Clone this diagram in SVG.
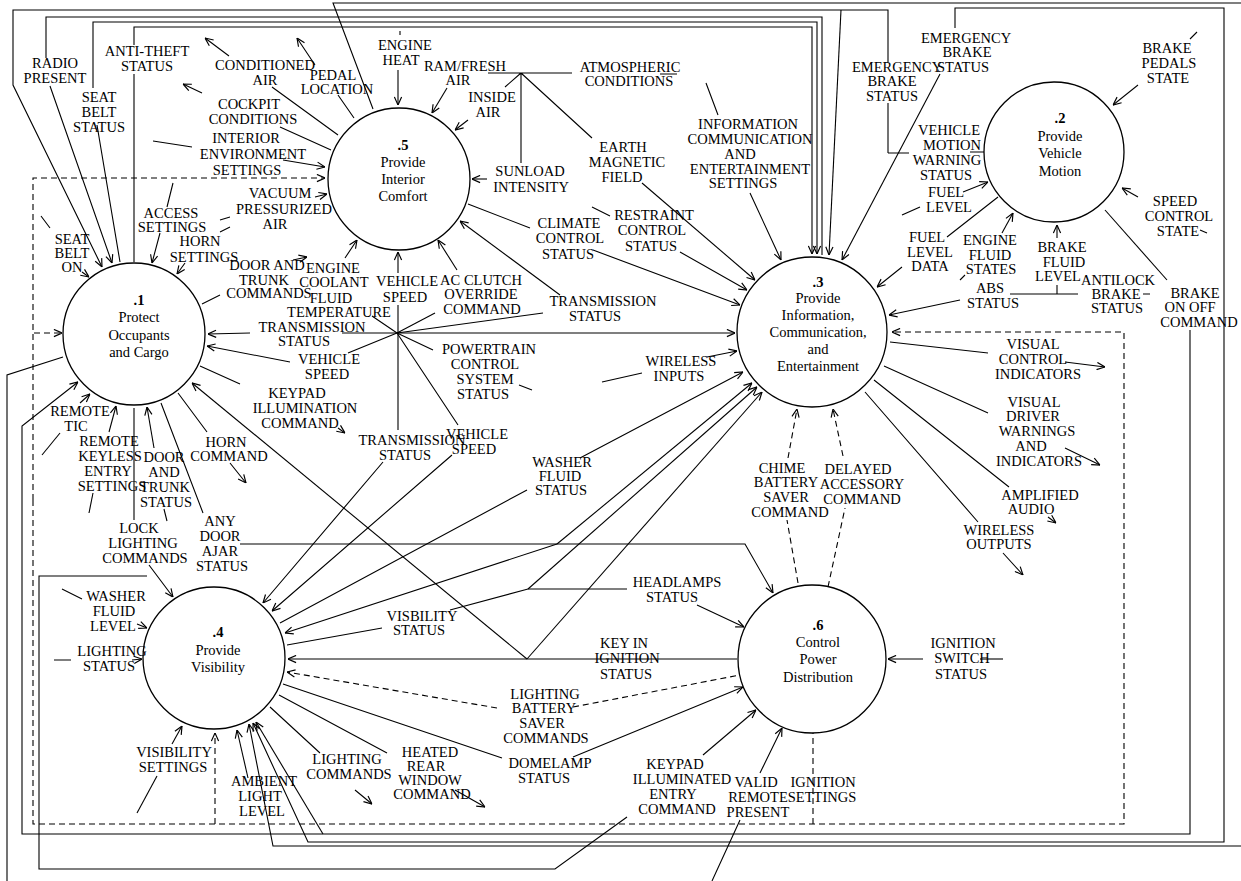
<svg xmlns="http://www.w3.org/2000/svg" width="1241" height="881" viewBox="0 0 1241 881">
<style>
.l{fill:none;stroke:#000;stroke-width:1.1}
.d{stroke-dasharray:6 4}
.c{fill:#fff;stroke:#000;stroke-width:1.3}
.t{font-family:"Liberation Serif","Times New Roman",serif;font-size:14.5px;text-anchor:middle;fill:#000}
.b{font-weight:bold}
</style>
<defs>
<marker id="a" viewBox="0 0 10 10" refX="10" refY="5" markerWidth="9" markerHeight="9" markerUnits="userSpaceOnUse" orient="auto"><path d="M1,1 L10,5 L1,9" fill="none" stroke="#000" stroke-width="1.3"/></marker>
</defs>
<rect width="1241" height="881" fill="#fff"/>
<g id="connectors" class="l">
<!-- top wrap-around lines -->
<path d="M134,262 L134,74 M134,45 L134,27 L812,27 L812,254" marker-end="url(#a)"/>
<path d="M120,262 L97,125 M93,88 L93,22 L817,22 L817,254" marker-end="url(#a)"/>
<path d="M822,255 L822,17 L46,17 L46,58 M50,86 L112,263" marker-end="url(#a)"/>
<path d="M888,153 L888,103 M888,62 L888,10 L13,10 L13,85 L102,267" marker-end="url(#a)"/>
<path d="M888,153 L909,153 M970,152 L986,152"/>
<path d="M841,10 L829,255" marker-end="url(#a)"/>
<path d="M940,74 L842,260" marker-end="url(#a)"/>
<path d="M955,28 L955,8 L1224,8 L1224,842 L308,842 L253,723" marker-end="url(#a)"/>
<path d="M373,109 L333,3 L1241,3"/>
<path d="M1105,210 L1167,280"/>
<path d="M1190,330 L1190,834 L22,834 L22,426 L78,382" marker-end="url(#a)"/>
<path d="M323,834 L256,722" marker-end="url(#a)"/>
<path d="M1241,846 L273,846 L249,724" marker-end="url(#a)"/>
<path d="M63,357 L7,375 L7,881"/>
<path d="M627,817 L555,869 L39,869 L39,576 L147,576"/>
<path d="M703,755 L756,710" marker-end="url(#a)"/>
<path d="M712,881 L740,820 M760,773 L782,728" marker-end="url(#a)"/>
<!-- dashed boundary -->
<path class="l d" d="M33,500 L33,178 L325,178" marker-end="url(#a)"/>
<path class="l d" d="M33,500 L33,824 L1124,824 L1124,332 L892,332" marker-end="url(#a)"/>
<path class="l d" d="M34,333 L62,333" marker-end="url(#a)"/>
<path class="l d" d="M215,824 L215,733" marker-end="url(#a)"/>
<path class="l d" d="M813,824 L813,733"/>
<!-- .5 surroundings -->
<path d="M338,135 L272,87 M229,56 L205,38" marker-end="url(#a)"/>
<path d="M331,150 L280,127 M202,93 L183,84" marker-end="url(#a)"/>
<path d="M354,118 L338,95 M315,65 L297,38" marker-end="url(#a)"/>
<path d="M398,70 L398,105" marker-end="url(#a)"/>
<path d="M400,31 L400,35"/>
<path d="M447,88 L432,113" marker-end="url(#a)"/>
<path d="M468,120 L455,130" marker-end="url(#a)"/>
<path d="M488,73 L572,73 M521,73 L505,87 M521,73 L521,163 M521,73 L592,138 M660,74 L677,74"/>
<path d="M487,179 L472,179" marker-end="url(#a)"/>
<path d="M642,183 L755,280" marker-end="url(#a)"/>
<path d="M706,83 L718,115 M750,193 L781,260" marker-end="url(#a)"/>
<path d="M468,204 L530,228 M593,250 L740,305" marker-end="url(#a)"/>
<path d="M592,207 L610,216 M680,252 L747,290" marker-end="url(#a)"/>
<path d="M560,295 L460,221" marker-end="url(#a)"/>
<path d="M397,333 L543,313"/>
<path d="M457,270 L438,240" marker-end="url(#a)"/>
<path d="M435,313 L397,333"/>
<path d="M398,333 L398,305 M398,273 L398,252" marker-end="url(#a)"/>
<path d="M372,316 L397,333 M345,258 L357,240" marker-end="url(#a)"/>
<path d="M153,141 L192,147 M283,160 L325,167" marker-end="url(#a)"/>
<path d="M220,220 L230,217 M315,197 L327,194" marker-end="url(#a)"/>
<path d="M173,183 L167,207 M160,233 L152,263" marker-end="url(#a)"/>
<path d="M220,232 L230,227 M185,263 L177,274" marker-end="url(#a)"/>
<path d="M41,216 L50,228 M82,272 L89,277" marker-end="url(#a)"/>
<path d="M202,304 L220,295 M293,260 L307,257" marker-end="url(#a)"/>
<!-- star -->
<path d="M342,333 L735,333" marker-end="url(#a)"/>
<path d="M250,333 L208,334" marker-end="url(#a)"/>
<path d="M348,353 L397,333 M290,362 L207,346" marker-end="url(#a)"/>
<path d="M397,333 L433,350 M519,385 L532,390"/>
<path d="M602,382 L642,373 M707,357 L737,351" marker-end="url(#a)"/>
<path d="M397,333 L458,425 M452,455 L272,611" marker-end="url(#a)"/>
<path d="M398,333 L398,430 M383,462 L263,603" marker-end="url(#a)"/>
<!-- .1 bottom -->
<path d="M200,366 L240,384 M338,428 L345,433" marker-end="url(#a)"/>
<path d="M178,393 L207,432 M230,463 L246,483" marker-end="url(#a)"/>
<path d="M161,403 L203,513 M240,544 L745,544 L773,593" marker-end="url(#a)"/>
<path d="M154,448 L147,407" marker-end="url(#a)"/>
<path d="M164,509 L167,521"/>
<path d="M109,432 L116,406" marker-end="url(#a)"/>
<path d="M93,493 L89,513"/>
<path d="M80,403 L90,394" marker-end="url(#a)"/>
<path d="M42,455 L60,433"/>
<path d="M134,408 L134,520 M149,565 L173,597" marker-end="url(#a)"/>
<!-- key in ignition -->
<path d="M737,659 L288,659" marker-end="url(#a)"/>
<path d="M527,659 L762,392" marker-end="url(#a)"/>
<path d="M527,659 L192,383" marker-end="url(#a)"/>
<!-- .4 surroundings -->
<path d="M62,589 L82,599 M137,624 L147,628" marker-end="url(#a)"/>
<path d="M54,660 L71,660 M132,660 L142,659" marker-end="url(#a)"/>
<path d="M172,744 L182,726" marker-end="url(#a)"/>
<path d="M157,776 L137,813"/>
<path d="M248,778 L237,730" marker-end="url(#a)"/>
<path d="M280,623 L527,490 M580,458 L743,372" marker-end="url(#a)"/>
<path d="M557,544 L752,383" marker-end="url(#a)"/>
<path d="M557,544 L285,633" marker-end="url(#a)"/>
<path d="M287,645 L382,628 M450,610 L528,589 L627,589"/>
<path d="M528,589 L757,387" marker-end="url(#a)"/>
<path d="M697,605 L744,627" marker-end="url(#a)"/>
<path d="M283,684 L502,758 M573,757 L743,687" marker-end="url(#a)"/>
<path d="M279,695 L387,753 M455,790 L485,807" marker-end="url(#a)"/>
<path d="M270,707 L320,753 M355,790 L372,804" marker-end="url(#a)"/>
<path class="l d" d="M497,708 L287,672" marker-end="url(#a)"/>
<path class="l d" d="M573,707 L740,675"/>
<!-- .6 surroundings -->
<path d="M923,659 L888,659" marker-end="url(#a)"/>
<path d="M980,659 L1003,659"/>
<path class="l d" d="M798,583 L787,520 M788,458 L797,409" marker-end="url(#a)"/>
<path class="l d" d="M828,587 L845,508 M843,456 L833,409" marker-end="url(#a)"/>
<!-- .3 right -->
<path d="M890,342 L988,353 M1065,362 L1105,367" marker-end="url(#a)"/>
<path d="M884,366 L988,413 M1065,448 L1100,465" marker-end="url(#a)"/>
<path d="M874,380 L1009,487 M1048,517 L1056,523" marker-end="url(#a)"/>
<path d="M865,392 L978,522 M1003,553 L1023,575" marker-end="url(#a)"/>
<path d="M960,300 L889,315" marker-end="url(#a)"/>
<path d="M1010,294 L1078,294 M1057,285 L1057,294 M1143,294 L1150,294"/>
<!-- .2 surroundings -->
<path d="M1057,238 L1057,225" marker-end="url(#a)"/>
<path d="M1002,233 L1013,213" marker-end="url(#a)"/>
<path d="M960,280 L965,275"/>
<path d="M947,237 L998,197 M902,267 L877,287" marker-end="url(#a)"/>
<path d="M963,192 L988,182" marker-end="url(#a)"/>
<path d="M902,215 L920,207"/>
<path d="M1138,85 L1113,105" marker-end="url(#a)"/>
<path d="M1197,32 L1190,39"/>
<path d="M1138,197 L1122,188" marker-end="url(#a)"/>
<path d="M1200,230 L1207,233"/>
</g>
<g id="n1"><circle class="c" cx="134" cy="334" r="71"/><text class="t"><tspan class="b" x="139" y="305">.1</tspan><tspan x="139" y="322">Protect</tspan><tspan x="139" y="340">Occupants</tspan><tspan x="139" y="357">and Cargo</tspan></text></g>
<g id="n2"><circle class="c" cx="1054" cy="152" r="70"/><text class="t"><tspan class="b" x="1060" y="123">.2</tspan><tspan x="1060" y="141">Provide</tspan><tspan x="1060" y="158">Vehicle</tspan><tspan x="1060" y="176">Motion</tspan></text></g>
<g id="n3"><circle class="c" cx="812" cy="332" r="75"/><text class="t"><tspan class="b" x="818" y="287">.3</tspan><tspan x="818" y="303">Provide</tspan><tspan x="818" y="320">Information,</tspan><tspan x="818" y="337">Communication,</tspan><tspan x="818" y="354">and</tspan><tspan x="818" y="371">Entertainment</tspan></text></g>
<g id="n4"><circle class="c" cx="214" cy="658" r="71"/><text class="t"><tspan class="b" x="218" y="637">.4</tspan><tspan x="218" y="655">Provide</tspan><tspan x="218" y="672">Visibility</tspan></text></g>
<g id="n5"><circle class="c" cx="399" cy="179" r="71"/><text class="t"><tspan class="b" x="403" y="150">.5</tspan><tspan x="403" y="167">Provide</tspan><tspan x="403" y="184">Interior</tspan><tspan x="403" y="201">Comfort</tspan></text></g>
<g id="n6"><circle class="c" cx="812" cy="659" r="74"/><text class="t"><tspan class="b" x="818" y="630">.6</tspan><tspan x="818" y="647">Control</tspan><tspan x="818" y="664">Power</tspan><tspan x="818" y="682">Distribution</tspan></text></g>
<g id="flow-labels" class="t">
<text><tspan x="55" y="68">RADIO</tspan><tspan x="55" y="83">PRESENT</tspan></text>
<text><tspan x="99" y="102">SEAT</tspan><tspan x="99" y="117">BELT</tspan><tspan x="99" y="132">STATUS</tspan></text>
<text><tspan x="147" y="56">ANTI-THEFT</tspan><tspan x="147" y="71">STATUS</tspan></text>
<text><tspan x="265" y="70">CONDITIONED</tspan><tspan x="265" y="85">AIR</tspan></text>
<text><tspan x="333" y="80">PEDAL</tspan><tspan x="337" y="94">LOCATION</tspan></text>
<text><tspan x="405" y="50">ENGINE</tspan><tspan x="401" y="65">HEAT</tspan></text>
<text><tspan x="465" y="71">RAM/FRESH</tspan><tspan x="458" y="85">AIR</tspan></text>
<text><tspan x="492" y="102">INSIDE</tspan><tspan x="488" y="117">AIR</tspan></text>
<text><tspan x="630" y="72">ATMOSPHERIC</tspan><tspan x="629" y="86">CONDITIONS</tspan></text>
<text><tspan x="249" y="109">COCKPIT</tspan><tspan x="253" y="124">CONDITIONS</tspan></text>
<text><tspan x="246" y="143">INTERIOR</tspan><tspan x="253" y="159">ENVIRONMENT</tspan><tspan x="247" y="175">SETTINGS</tspan></text>
<text><tspan x="530" y="176">SUNLOAD</tspan><tspan x="531" y="192">INTENSITY</tspan></text>
<text><tspan x="623" y="152">EARTH</tspan><tspan x="627" y="167">MAGNETIC</tspan><tspan x="622" y="182">FIELD</tspan></text>
<text><tspan x="748" y="129">INFORMATION</tspan><tspan x="750" y="144">COMMUNICATION</tspan><tspan x="740" y="159">AND</tspan><tspan x="750" y="174">ENTERTAINMENT</tspan><tspan x="743" y="188">SETTINGS</tspan></text>
<text><tspan x="569" y="228">CLIMATE</tspan><tspan x="570" y="243">CONTROL</tspan><tspan x="568" y="259">STATUS</tspan></text>
<text><tspan x="654" y="220">RESTRAINT</tspan><tspan x="652" y="235">CONTROL</tspan><tspan x="651" y="251">STATUS</tspan></text>
<text><tspan x="171" y="218">ACCESS</tspan><tspan x="172" y="232">SETTINGS</tspan></text>
<text><tspan x="280" y="198">VACUUM</tspan><tspan x="284" y="214">PRESSURIZED</tspan><tspan x="275" y="229">AIR</tspan></text>
<text><tspan x="200" y="246">HORN</tspan><tspan x="204" y="262">SETTINGS</tspan></text>
<text><tspan x="72" y="244">SEAT</tspan><tspan x="72" y="258">BELT</tspan><tspan x="72" y="272">ON</tspan></text>
<text><tspan x="267" y="270">DOOR AND</tspan><tspan x="264" y="285">TRUNK</tspan><tspan x="269" y="298">COMMANDS</tspan></text>
<text><tspan x="333" y="273">ENGINE</tspan><tspan x="334" y="287">COOLANT</tspan><tspan x="331" y="303">FLUID</tspan><tspan x="339" y="317">TEMPERATURE</tspan></text>
<text><tspan x="407" y="286">VEHICLE</tspan><tspan x="405" y="302">SPEED</tspan></text>
<text><tspan x="481" y="285">AC CLUTCH</tspan><tspan x="481" y="299">OVERRIDE</tspan><tspan x="482" y="314">COMMAND</tspan></text>
<text><tspan x="603" y="306">TRANSMISSION</tspan><tspan x="595" y="321">STATUS</tspan></text>
<text><tspan x="312" y="332">TRANSMISSION</tspan><tspan x="304" y="346">STATUS</tspan></text>
<text><tspan x="329" y="364">VEHICLE</tspan><tspan x="327" y="379">SPEED</tspan></text>
<text><tspan x="297" y="398">KEYPAD</tspan><tspan x="305" y="413">ILLUMINATION</tspan><tspan x="300" y="428">COMMAND</tspan></text>
<text><tspan x="489" y="354">POWERTRAIN</tspan><tspan x="485" y="369">CONTROL</tspan><tspan x="485" y="384">SYSTEM</tspan><tspan x="483" y="399">STATUS</tspan></text>
<text><tspan x="681" y="366">WIRELESS</tspan><tspan x="679" y="381">INPUTS</tspan></text>
<text><tspan x="477" y="439">VEHICLE</tspan><tspan x="474" y="454">SPEED</tspan></text>
<text><tspan x="412" y="445">TRANSMISSION</tspan><tspan x="405" y="460">STATUS</tspan></text>
<text><tspan x="562" y="467">WASHER</tspan><tspan x="560" y="481">FLUID</tspan><tspan x="561" y="495">STATUS</tspan></text>
<text><tspan x="226" y="447">HORN</tspan><tspan x="229" y="461">COMMAND</tspan></text>
<text><tspan x="164" y="462">DOOR</tspan><tspan x="164" y="477">AND</tspan><tspan x="165" y="492">TRUNK</tspan><tspan x="166" y="507">STATUS</tspan></text>
<text><tspan x="109" y="446">REMOTE</tspan><tspan x="110" y="461">KEYLESS</tspan><tspan x="108" y="476">ENTRY</tspan><tspan x="112" y="491">SETTINGS</tspan></text>
<text><tspan x="80" y="416">REMOTE</tspan><tspan x="76" y="431">TIC</tspan></text>
<text><tspan x="139" y="533">LOCK</tspan><tspan x="143" y="548">LIGHTING</tspan><tspan x="145" y="563">COMMANDS</tspan></text>
<text><tspan x="220" y="526">ANY</tspan><tspan x="220" y="541">DOOR</tspan><tspan x="220" y="556">AJAR</tspan><tspan x="222" y="571">STATUS</tspan></text>
<text><tspan x="116" y="601">WASHER</tspan><tspan x="114" y="616">FLUID</tspan><tspan x="113" y="631">LEVEL</tspan></text>
<text><tspan x="112" y="656">LIGHTING</tspan><tspan x="109" y="671">STATUS</tspan></text>
<text><tspan x="174" y="757">VISIBILITY</tspan><tspan x="173" y="772">SETTINGS</tspan></text>
<text><tspan x="264" y="786">AMBIENT</tspan><tspan x="260" y="801">LIGHT</tspan><tspan x="262" y="816">LEVEL</tspan></text>
<text><tspan x="347" y="764">LIGHTING</tspan><tspan x="349" y="779">COMMANDS</tspan></text>
<text><tspan x="430" y="757">HEATED</tspan><tspan x="426" y="771">REAR</tspan><tspan x="430" y="785">WINDOW</tspan><tspan x="432" y="799">COMMAND</tspan></text>
<text><tspan x="422" y="621">VISBILITY</tspan><tspan x="419" y="635">STATUS</tspan></text>
<text><tspan x="624" y="648">KEY IN</tspan><tspan x="627" y="663">IGNITION</tspan><tspan x="626" y="679">STATUS</tspan></text>
<text><tspan x="677" y="587">HEADLAMPS</tspan><tspan x="672" y="602">STATUS</tspan></text>
<text><tspan x="545" y="699">LIGHTING</tspan><tspan x="544" y="713">BATTERY</tspan><tspan x="542" y="728">SAVER</tspan><tspan x="546" y="743">COMMANDS</tspan></text>
<text><tspan x="550" y="768">DOMELAMP</tspan><tspan x="544" y="783">STATUS</tspan></text>
<text><tspan x="675" y="769">KEYPAD</tspan><tspan x="682" y="784">ILLUMINATED</tspan><tspan x="673" y="799">ENTRY</tspan><tspan x="677" y="814">COMMAND</tspan></text>
<text><tspan x="756" y="787">VALID</tspan><tspan x="758" y="802">REMOTE</tspan><tspan x="758" y="817">PRESENT</tspan></text>
<text><tspan x="823" y="787">IGNITION</tspan><tspan x="822" y="802">SETTINGS</tspan></text>
<text><tspan x="963" y="648">IGNITION</tspan><tspan x="962" y="663">SWITCH</tspan><tspan x="961" y="679">STATUS</tspan></text>
<text><tspan x="782" y="473">CHIME</tspan><tspan x="786" y="487">BATTERY</tspan><tspan x="786" y="502">SAVER</tspan><tspan x="790" y="517">COMMAND</tspan></text>
<text><tspan x="858" y="474">DELAYED</tspan><tspan x="862" y="489">ACCESSORY</tspan><tspan x="862" y="504">COMMAND</tspan></text>
<text><tspan x="1033" y="349">VISUAL</tspan><tspan x="1033" y="364">CONTROL</tspan><tspan x="1038" y="379">INDICATORS</tspan></text>
<text><tspan x="1034" y="407">VISUAL</tspan><tspan x="1033" y="421">DRIVER</tspan><tspan x="1037" y="436">WARNINGS</tspan><tspan x="1031" y="451">AND</tspan><tspan x="1039" y="466">INDICATORS</tspan></text>
<text><tspan x="1040" y="500">AMPLIFIED</tspan><tspan x="1031" y="514">AUDIO</tspan></text>
<text><tspan x="999" y="535">WIRELESS</tspan><tspan x="999" y="549">OUTPUTS</tspan></text>
<text><tspan x="990" y="293">ABS</tspan><tspan x="993" y="308">STATUS</tspan></text>
<text><tspan x="1118" y="285">ANTILOCK</tspan><tspan x="1116" y="299">BRAKE</tspan><tspan x="1117" y="313">STATUS</tspan></text>
<text><tspan x="1195" y="298">BRAKE</tspan><tspan x="1190" y="312">ON OFF</tspan><tspan x="1199" y="327">COMMAND</tspan></text>
<text><tspan x="1062" y="252">BRAKE</tspan><tspan x="1064" y="267">FLUID</tspan><tspan x="1058" y="281">LEVEL</tspan></text>
<text><tspan x="990" y="245">ENGINE</tspan><tspan x="990" y="260">FLUID</tspan><tspan x="991" y="274">STATES</tspan></text>
<text><tspan x="927" y="242">FUEL</tspan><tspan x="930" y="257">LEVEL</tspan><tspan x="930" y="271">DATA</tspan></text>
<text><tspan x="946" y="197">FUEL</tspan><tspan x="949" y="212">LEVEL</tspan></text>
<text><tspan x="949" y="135">VEHICLE</tspan><tspan x="952" y="150">MOTION</tspan><tspan x="947" y="165">WARNING</tspan><tspan x="946" y="180">STATUS</tspan></text>
<text><tspan x="897" y="72">EMERGENCY</tspan><tspan x="892" y="86">BRAKE</tspan><tspan x="892" y="101">STATUS</tspan></text>
<text><tspan x="966" y="43">EMERGENCY</tspan><tspan x="967" y="57">BRAKE</tspan><tspan x="963" y="72">STATUS</tspan></text>
<text><tspan x="1167" y="53">BRAKE</tspan><tspan x="1169" y="68">PEDALS</tspan><tspan x="1168" y="83">STATE</tspan></text>
<text><tspan x="1175" y="206">SPEED</tspan><tspan x="1179" y="221">CONTROL</tspan><tspan x="1178" y="236">STATE</tspan></text>
</g>
</svg>
